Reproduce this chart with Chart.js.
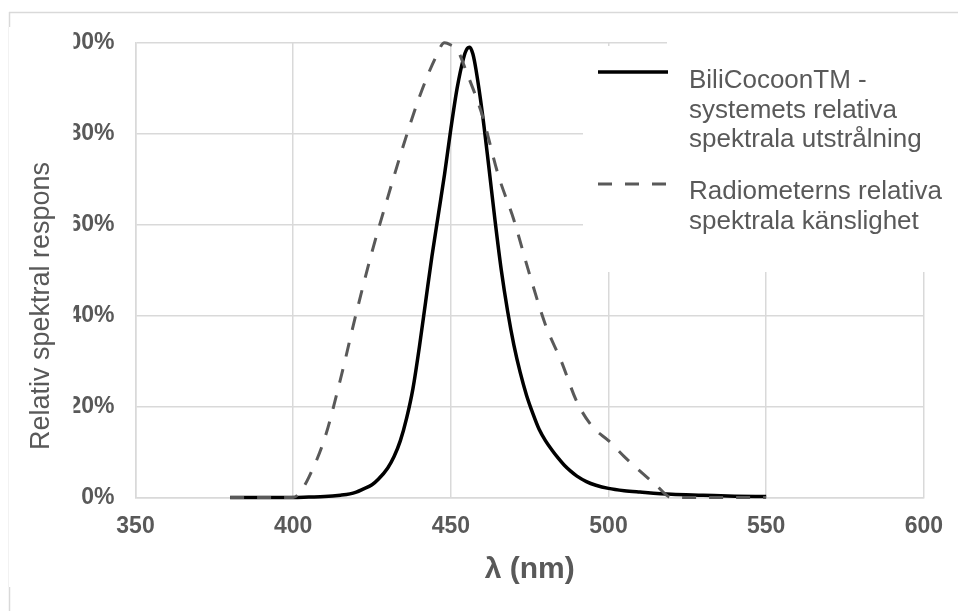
<!DOCTYPE html>
<html>
<head>
<meta charset="utf-8">
<script src="https://cdn.jsdelivr.net/npm/chart.js@4.4.1/dist/chart.umd.min.js"></script>
<style>
  html, body { margin: 0; padding: 0; background: #ffffff; }
  #wrap { width: 958px; height: 611px; position: relative; }
</style>
</head>
<body>
<div id="wrap"><canvas id="c" width="958" height="611"></canvas></div>
<script>
// ---- data ----
const emissionWavelength = [380, 390, 400, 405, 410, 415, 418, 420, 422, 425, 427, 430, 432, 434, 436, 438, 440, 442, 444, 446, 448, 450, 452, 454, 455, 456, 457, 458, 460, 462, 464, 466, 468, 470, 472, 474, 476, 478, 480, 482, 484, 486, 488, 490, 493, 496, 500, 505, 510, 520, 530, 540, 550];
const emissionValue = [0, 0, 0, 0.1, 0.2, 0.5, 0.8, 1.2, 1.8, 2.8, 4, 6.5, 9, 12.5, 17.5, 24, 33, 43, 53, 62, 71, 81, 90, 96.5, 98.5, 99, 97.5, 94, 84.5, 73, 61, 50, 41, 33.5, 27.5, 22.5, 18.5, 15, 12.5, 10.5, 8.7, 7.1, 5.8, 4.7, 3.5, 2.7, 2, 1.5, 1.2, 0.7, 0.5, 0.3, 0.2];

const sensitivityWavelength = [380, 390, 400, 402, 405, 410, 415, 420, 425, 430, 435, 440, 445, 448, 450, 452, 455, 460, 465, 470, 475, 480, 485, 490, 495, 500, 505, 510, 515, 520, 530, 540, 550];
const sensitivityValue = [0, 0, 0, 1, 4.5, 13, 26, 40.5, 54, 66, 77.5, 88, 96.5, 100, 99.5, 98.5, 93.5, 84, 71, 61, 49, 38, 30, 21, 15.5, 12.5, 9, 5.8, 2.8, 0, 0, 0, 0];

const seriesNames = [
  ["BiliCocoonTM -", "systemets relativa", "spektrala utstrålning"],
  ["Radiometerns relativa", "spektrala känslighet"]
];
const xTickValues = [350, 400, 450, 500, 550, 600];
const yTickValues = [0, 20, 40, 60, 80, 100];
const xAxisTitle = "λ (nm)";
const yAxisTitle = "Relativ spektral respons";

// ---- styling ----
const FONT = "'Liberation Sans', Arial, Helvetica, sans-serif";
const TEXT = "#595959";
const GRID = "#d9d9d9";

const toPoints = (xs, ys) => xs.map((x, i) => ({ x: x, y: ys[i] }));

const decorPlugin = {
  id: 'decor',
  beforeDatasetsDraw(chart) {
    const ctx = chart.ctx;
    ctx.save();
    ctx.fillStyle = '#ffffff';
    // legend box covers the grid
    ctx.fillRect(583, 46, 375, 226);
    ctx.fillRect(667, 36, 291, 12);
    ctx.restore();
  },
  afterDraw(chart) {
    const ctx = chart.ctx;
    ctx.save();
    // clipped left part of the y tick labels
    ctx.fillStyle = '#ffffff';
    ctx.fillRect(50, 25, 23.5, 120);
    ctx.fillRect(60, 145, 13.5, 280);

    // y axis title
    ctx.fillStyle = TEXT;
    ctx.font = "27px " + FONT;
    ctx.textAlign = 'center';
    ctx.textBaseline = 'middle';
    ctx.translate(42, 306);
    ctx.rotate(-Math.PI / 2);
    ctx.fillText(yAxisTitle, 0, 0);
    ctx.restore();

    // legend
    ctx.save();
    ctx.lineWidth = 3.5;
    ctx.strokeStyle = '#000000';
    ctx.beginPath();
    ctx.moveTo(598, 72);
    ctx.lineTo(668, 72);
    ctx.stroke();
    ctx.lineWidth = 3;
    ctx.strokeStyle = TEXT;
    ctx.setLineDash([14, 13]);
    ctx.beginPath();
    ctx.moveTo(598, 184);
    ctx.lineTo(668, 184);
    ctx.stroke();
    ctx.setLineDash([]);
    ctx.fillStyle = TEXT;
    ctx.font = "26px " + FONT;
    ctx.textAlign = 'left';
    ctx.textBaseline = 'alphabetic';
    const baselines = [[88, 117.5, 147], [198.5, 229]];
    seriesNames.forEach((lines, s) => {
      lines.forEach((t, j) => ctx.fillText(t, 689, baselines[s][j]));
    });

    // outer frame fragments
    ctx.strokeStyle = GRID;
    ctx.lineWidth = 1.5;
    ctx.beginPath();
    ctx.moveTo(9, 12.5); ctx.lineTo(958, 12.5);
    ctx.moveTo(9.5, 12); ctx.lineTo(9.5, 27);
    ctx.moveTo(9.5, 587); ctx.lineTo(9.5, 611);
    ctx.stroke();
    ctx.strokeStyle = '#f2f2f2';
    ctx.lineWidth = 1;
    ctx.beginPath();
    ctx.moveTo(8.5, 27); ctx.lineTo(8.5, 587);
    ctx.stroke();
    ctx.restore();
  }
};

new Chart(document.getElementById('c'), {
  type: 'line',
  data: {
    datasets: [
      {
        label: seriesNames[0].join(' '),
        data: toPoints(emissionWavelength, emissionValue),
        borderColor: '#000000',
        borderWidth: 3.5,
        pointRadius: 0,
        cubicInterpolationMode: 'monotone',
        fill: false,
        clip: false,
        order: 1
      },
      {
        label: seriesNames[1].join(' '),
        data: toPoints(sensitivityWavelength, sensitivityValue),
        borderColor: TEXT,
        borderWidth: 3,
        borderDash: [14, 13],
        pointRadius: 0,
        cubicInterpolationMode: 'monotone',
        fill: false,
        clip: false,
        order: 0
      }
    ]
  },
  options: {
    responsive: false,
    animation: false,
    devicePixelRatio: 1,
    layout: { padding: { left: 0, top: 42.7, right: 30.7, bottom: 0 } },
    plugins: { legend: { display: false }, tooltip: { enabled: false }, title: { display: false } },
    scales: {
      x: {
        type: 'linear',
        min: 350,
        max: 600,
        afterBuildTicks(scale) { scale.ticks = xTickValues.map(v => ({ value: v })); },
        afterFit(scale) { scale.height = 113.5; },
        grid: { color: GRID, lineWidth: 1.5, drawTicks: false },
        border: { color: GRID, width: 1.5 },
        ticks: { color: TEXT, font: { family: FONT, size: 23, weight: 'bold' }, padding: 15, maxRotation: 0 },
        title: { display: true, text: xAxisTitle, color: TEXT, font: { family: FONT, size: 30, weight: 'bold' }, padding: { top: 0, bottom: 23 } }
      },
      y: {
        type: 'linear',
        min: 0,
        max: 100,
        afterBuildTicks(scale) { scale.ticks = yTickValues.map(v => ({ value: v })); },
        afterFit(scale) { scale.width = 135.5; },
        grid: { color: GRID, lineWidth: 1.5, drawTicks: false },
        border: { color: GRID, width: 1.5 },
        ticks: { color: TEXT, font: { family: FONT, size: 23, weight: 'bold' }, padding: 21, callback: v => v + '%' }
      }
    }
  },
  plugins: [decorPlugin]
});
</script>
</body>
</html>
